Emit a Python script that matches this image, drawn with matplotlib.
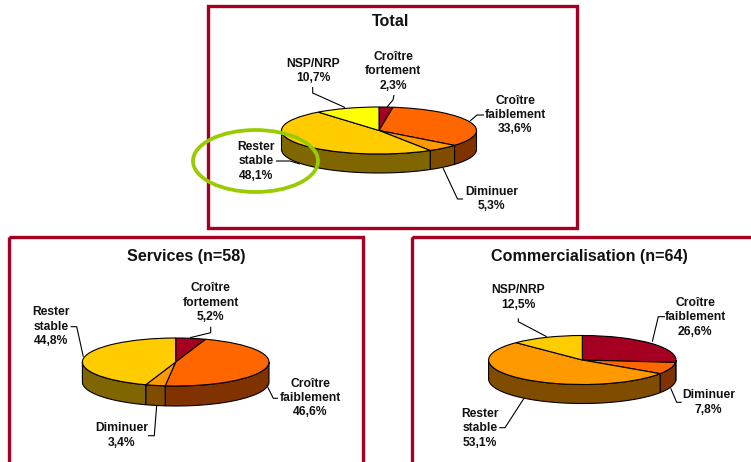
import numpy as np
import matplotlib
matplotlib.use("Agg")
import matplotlib.pyplot as plt
from matplotlib.patches import Ellipse, Rectangle

plt.rcParams['font.family'] = ['Liberation Sans', 'DejaVu Sans']

W, H = 751, 462

# ---- data ----
total_values = [2.3, 33.6, 5.3, 48.1, 10.7]
total_names = ["Croître\nfortement", "Croître\nfaiblement", "Diminuer", "Rester\nstable", "NSP/NRP"]
services_values = [5.2, 46.6, 3.4, 44.8]
services_names = ["Croître\nfortement", "Croître\nfaiblement", "Diminuer", "Rester\nstable"]
commerce_values = [26.6, 7.8, 53.1, 12.5]
commerce_names = ["Croître\nfaiblement", "Diminuer", "Rester\nstable", "NSP/NRP"]

# ---- styles ----
DARKRED, ORANGE, AMBER, GOLD, YELLOW = "#A50021", "#FF6600", "#FF9900", "#FFCC00", "#FFFF00"
SIDE = {DARKRED: "#530011", ORANGE: "#803300", AMBER: "#804D00", GOLD: "#806600", YELLOW: "#808000"}
FRAME = "#A50021"
GREEN = "#99CC00"

# ---- layout (pixels) ----
charts = [
    dict(title="Total", title_xy=(391, 22), values=total_values, names=total_names,
         colors=[DARKRED, ORANGE, AMBER, GOLD, YELLOW],
         cx=379, cy=130.5, rx=97.5, ry=23.5, depth=19,
         label_xy=[(393, 71.5), (515, 115), (491.7, 199), (256, 161.5), (313, 71)],
         leaders=[[(394, 95), (393, 100), (387, 107)],
                  [(484, 115), (477, 115), (470, 121)],
                  [(463, 199), (457.5, 199), (443, 168)],
                  [(276, 161), (290, 161), (300, 164)],
                  [(312.7, 87), (312.7, 93), (345, 107.5)]]),
    dict(title="Services (n=58)", title_xy=(186, 256.7), values=services_values, names=services_names,
         colors=[DARKRED, ORANGE, AMBER, GOLD],
         cx=175.7, cy=362, rx=93.3, ry=24, depth=20,
         label_xy=[(210.7, 302.7), (310, 398), (121.7, 435.7), (50.7, 326.7)],
         leaders=[[(210.7, 326.7), (210.7, 332.7), (190, 337.7)],
                  [(278, 398.3), (273.3, 398.3), (266.7, 385)],
                  [(148, 435.7), (154.3, 435.7), (156.7, 405)],
                  [(70.7, 326.7), (76.7, 326.7), (83.3, 356.7)]]),
    dict(title="Commercialisation (n=64)", title_xy=(589, 256.7), values=commerce_values, names=commerce_names,
         colors=[DARKRED, ORANGE, AMBER, GOLD],
         cx=582.3, cy=360, rx=93.7, ry=24.5, depth=19,
         label_xy=[(695, 317.3), (708.3, 402.7), (480, 428.3), (518.3, 297.7)],
         leaders=[[(665, 316.7), (658.3, 316.7), (652.3, 341.7)],
                  [(681.7, 402.3), (676.7, 402.3), (670.7, 388.3)],
                  [(499.3, 427.7), (505, 427.7), (524, 398.3)],
                  [(518.3, 318.3), (518.3, 321.7), (546.7, 336.7)]]),
]
frames = [(207.5, 5.5, 369, 222.5), (9, 236.5, 353.7, 240), (412, 236.5, 360, 240)]

fig = plt.figure(figsize=(W / 100, H / 100), dpi=100, facecolor="white")


def draw_pie(c):
    ax = fig.add_axes([(c["cx"] - c["rx"]) / W, 1 - (c["cy"] + c["ry"]) / H,
                       2 * c["rx"] / W, 2 * c["ry"] / H])
    vals = np.asarray(c["values"], dtype=float)
    edges = np.concatenate([[0], np.cumsum(vals) / vals.sum()])
    d = c["depth"] / c["ry"]
    # side walls: only the front half of the rim (a quarter to three quarters of a turn)
    for i, col in enumerate(c["colors"]):
        a, b = max(edges[i], 0.25), min(edges[i + 1], 0.75)
        if b <= a:
            continue
        t = np.linspace(a, b, 60) * 2 * np.pi
        x, y = np.sin(t), np.cos(t)
        ax.fill(np.r_[x, x[::-1]], np.r_[y, y[::-1] - d], facecolor=SIDE[col],
                edgecolor="black", linewidth=0.8, clip_on=False, zorder=1)
    wedges, _ = ax.pie(vals, colors=c["colors"], startangle=90, counterclock=False, radius=1,
                       wedgeprops=dict(edgecolor="black", linewidth=0.8, zorder=2))
    for w in wedges:
        w.set_clip_on(False)
    ax.set_xlim(-1, 1)
    ax.set_ylim(-1, 1)
    ax.set_aspect("auto")
    ax.axis("off")


for c in charts:
    draw_pie(c)

ov = fig.add_axes([0, 0, 1, 1], zorder=10)
ov.set_xlim(0, W)
ov.set_ylim(H, 0)
ov.axis("off")
ov.patch.set_alpha(0)

for x, y, w, h in frames:
    ov.add_patch(Rectangle((x, y), w, h, fill=False, edgecolor=FRAME, linewidth=2.4))

txt = "#111111"
for c in charts:
    ov.text(*c["title_xy"], c["title"], ha="center", va="center", fontsize=11.6,
            fontweight="bold", color=txt)
    for name, v, (lx, ly), pts in zip(c["names"], c["values"], c["label_xy"], c["leaders"]):
        ov.text(lx, ly, f"{name}\n{v:.1f}%".replace(".", ","), ha="center", va="center",
                fontsize=8.7, fontweight="bold", color=txt, linespacing=1.27)
        px, py = zip(*pts)
        ov.plot(px, py, color="black", linewidth=0.8, solid_capstyle="butt")

ov.add_patch(Ellipse((255.5, 161), 125, 62, fill=False, edgecolor=GREEN, linewidth=2.7))

fig.savefig("out.png", dpi=100, facecolor="white")
